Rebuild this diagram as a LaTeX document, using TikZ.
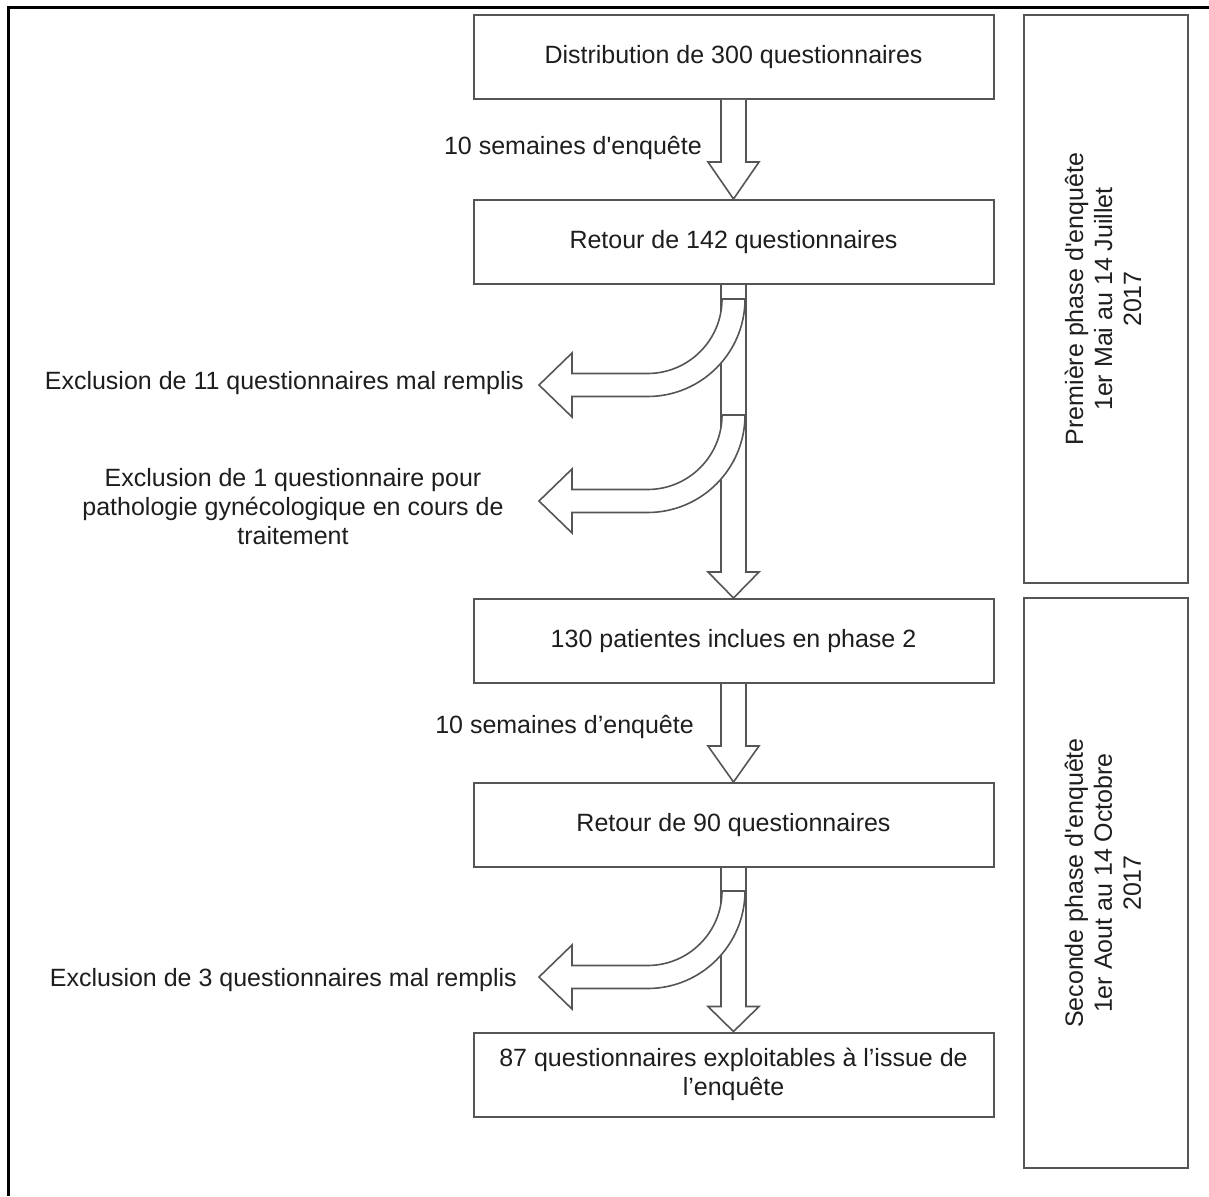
\documentclass[tikz,border=0pt]{standalone}
\usepackage{fontspec}
\newfontfamily\libsans{Liberation Sans}
\usetikzlibrary{calc}
\definecolor{boxgray}{HTML}{555555}
\definecolor{txt}{HTML}{1E1E1E}
\tikzset{
  stepbox/.style={draw=boxgray, line width=2pt, fill=white, minimum width=520pt, minimum height=84pt, inner sep=0pt, align=center},
  phasebox/.style={draw=boxgray, line width=2pt, minimum width=164pt, inner sep=0pt},
  lbl/.style={inner sep=0pt, align=center},
  blk/.style={draw=boxgray, line width=1.6pt, fill=white, line join=miter},
  bendarrow/.pic={\path[blk] (-11.5,0) .. controls (-11.5,41.15) and (-44.85,74.5) .. (-86,74.5) -- (-161.5,74.5) -- (-161.5,54) -- (-194.5,86) -- (-161.5,118) -- (-161.5,97.5) -- (-86,97.5) .. controls (-32.15,97.5) and (11.5,53.85) .. (11.5,0) -- cycle;}
}
\newcommand\blockarrow[3]{\path[blk] let \p1=(#1.south), \p2=(#2.north) in (\x1-12.5pt,\y1) -- (\x1-12.5pt,\y2+#3) -- (\x1-25.5pt,\y2+#3) -- (\x1,\y2) -- (\x1+25.5pt,\y2+#3) -- (\x1+12.5pt,\y2+#3) -- (\x1+12.5pt,\y1);}
\begin{document}
\begin{tikzpicture}[x=1pt,y=-1pt,font=\libsans\fontsize{25}{29}\selectfont,text=txt]
\useasboundingbox (0,0) rectangle (1209,1196);
\fill[white] (0,0) rectangle (1209,1196);
% outer frame
\draw[black,line width=2.2pt] (8.5,1196) -- (8.5,7.5) -- (1209,7.5);
% main boxes
\node[stepbox] (b1) at (733.5,57) {Distribution de 300 questionnaires};
\node[stepbox] (b2) at (733.5,242) {Retour de 142 questionnaires};
\node[stepbox] (b3) at (733.5,641) {130 patientes inclues en phase 2};
\node[stepbox] (b4) at (733.5,825) {Retour de 90 questionnaires};
\node[stepbox] (b5) at (733.5,1074.5) {87 questionnaires exploitables à l’issue de\\l’enquête};
% phase boxes
\node[phasebox, minimum height=568pt] (p1) at (1106,299) {};
\node[phasebox, minimum height=570pt] (p2) at (1106,883) {};
\node[lbl, rotate=90] (p1t) at ($(p1.center)+(-3,0)$) {Première phase d'enquête\\1er Mai au 14 Juillet\\2017};
\node[lbl, rotate=90] (p2t) at ($(p2.center)+(-3,0)$) {Seconde phase d'enquête\\1er Aout au 14 Octobre\\2017};
% straight block arrows
\blockarrow{b1}{b2}{37pt}
\blockarrow{b2}{b3}{26pt}
\blockarrow{b3}{b4}{36pt}
\blockarrow{b4}{b5}{25pt}
% bent block arrows
\coordinate (s1) at ($(b2.south)+(0,14)$);
\coordinate (s2) at ($(b2.south)+(0,130)$);
\coordinate (s3) at ($(b4.south)+(0,23)$);
\pic at (s1) {bendarrow};
\pic at (s2) {bendarrow};
\pic at (s3) {bendarrow};
% labels
\node[lbl, anchor=east] (l1) at (702,148) {10 semaines d'enquête};
\node[lbl, anchor=east] (l2) at (694,727) {10 semaines d’enquête};
\node[lbl, anchor=east] (e1) at (524,383) {Exclusion de 11 questionnaires mal remplis};
\node[lbl] (e2) at (293,507) {Exclusion de 1 questionnaire pour\\pathologie gynécologique en cours de\\traitement};
\node[lbl, anchor=east] (e3) at (517,980) {Exclusion de 3 questionnaires mal remplis};
\end{tikzpicture}
\end{document}
